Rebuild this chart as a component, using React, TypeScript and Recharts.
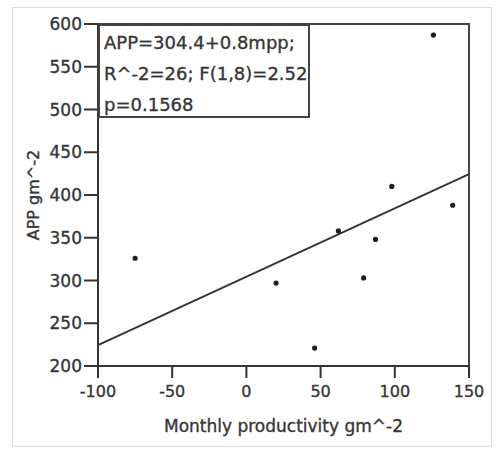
import React from 'react';
import { ScatterChart, Scatter, XAxis, YAxis, ReferenceArea, ReferenceLine, Label } from 'recharts';

const productivity = [-75, 20, 46, 62, 79, 87, 98, 126, 139];
const appValues = [326, 297, 221, 358, 303, 348, 410, 587, 388];
const xTicks = [-100, -50, 0, 50, 100, 150];
const yTicks = [200, 250, 300, 350, 400, 450, 500, 550, 600];
const fitX = [-100, 150];
const fitY = [224.4, 424.4];
const statLines = ['APP=304.4+0.8mpp;', 'R^-2=26; F(1,8)=2.52', 'p=0.1568'];
const xTitle = 'Monthly productivity gm^-2';
const yTitle = 'APP gm^-2';

const points = productivity.map((x, i) => ({ x, y: appValues[i] }));
const FONT = '"DejaVu Sans", sans-serif';
const INK = '#333';
const TXT = '#363636';
const heavy = { stroke: TXT, strokeWidth: 0.35 };

const Dot = (props: any) => <circle cx={props.cx} cy={props.cy} r={2.6} fill="#1e1e1e" />;

export default function App() {
  return (
    <div style={{ position: 'absolute', left: 0, top: 0, width: 498, height: 450, background: '#fff', fontFamily: FONT }}>
      <div style={{ position: 'absolute', left: 12, top: 7, width: 480, height: 440, border: '1px solid #dcdcdc', boxSizing: 'border-box' }} />
      <ScatterChart width={498} height={450} margin={{ top: 24, right: 29, bottom: 24, left: 38 }} style={{ position: 'absolute', left: 0, top: 0 }}>
        <XAxis
          type="number"
          dataKey="x"
          domain={[-100, 150]}
          ticks={xTicks}
          allowDataOverflow
          height={60}
          tickSize={12}
          tickMargin={8}
          axisLine={{ stroke: INK, strokeWidth: 2 }}
          tickLine={{ stroke: INK, strokeWidth: 2 }}
          tick={{ fontSize: 16, fill: TXT, fontFamily: FONT, ...heavy }}
        >
          <Label value={xTitle} position="bottom" offset={-6} style={{ fontSize: 17, fill: TXT, fontFamily: FONT, ...heavy }} />
        </XAxis>
        <YAxis
          type="number"
          dataKey="y"
          domain={[200, 600]}
          ticks={yTicks}
          allowDataOverflow
          width={60}
          tickSize={14}
          tickMargin={2}
          axisLine={{ stroke: INK, strokeWidth: 2 }}
          tickLine={{ stroke: INK, strokeWidth: 2 }}
          tick={{ fontSize: 17, fill: TXT, fontFamily: FONT, ...heavy }}
        >
          <Label value={yTitle} angle={-90} position="insideLeft" offset={-5} style={{ fontSize: 16, fill: TXT, fontFamily: FONT, textAnchor: 'middle', ...heavy }} />
        </YAxis>
        <ReferenceArea x1={-100} x2={150} y1={200} y2={600} fill="none" fillOpacity={0} stroke="#444" strokeWidth={2} />
        <ReferenceLine segment={[{ x: fitX[0], y: fitY[0] }, { x: fitX[1], y: fitY[1] }]} stroke="#333" strokeWidth={1.8} />
        <Scatter data={points} shape={Dot} isAnimationActive={false} />
      </ScatterChart>
      <div
        style={{
          position: 'absolute',
          left: 98,
          top: 24,
          width: 212,
          height: 94,
          border: '2px solid #444',
          boxSizing: 'border-box',
          background: '#fff',
          paddingLeft: 4,
          paddingTop: 1,
          fontSize: 18,
          lineHeight: '31px',
          color: TXT,
          WebkitTextStroke: '0.35px #363636',
          whiteSpace: 'nowrap',
        }}
      >
        {statLines.map((t) => (
          <div key={t}>{t}</div>
        ))}
      </div>
    </div>
  );
}
